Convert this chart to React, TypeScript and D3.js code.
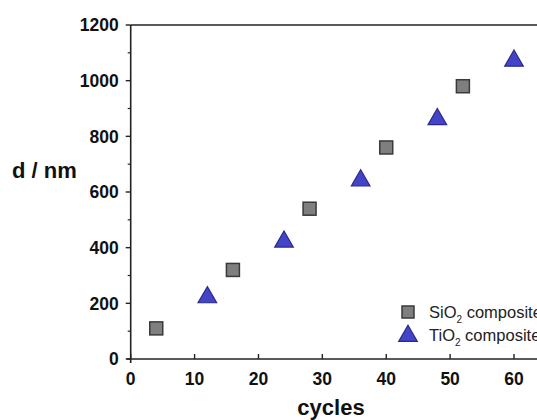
import React from "react";
import * as d3 from "d3";

const sioCycles = [4, 16, 28, 40, 52];
const sioThickness = [110, 320, 540, 760, 980];
const tioCycles = [12, 24, 36, 48, 60];
const tioThickness = [225, 425, 645, 865, 1075];
const xTicks = [0, 10, 20, 30, 40, 50, 60];
const yTicks = [0, 200, 400, 600, 800, 1000, 1200];
const yMinor = [100, 300, 500, 700, 900, 1100];

const W = 537;
const H = 420;

export default function App() {
  const x = d3.scaleLinear().domain([0, 60]).range([130.7, 514]);
  const y = d3.scaleLinear().domain([0, 1200]).range([359, 25]);
  const font = "'Liberation Sans', Arial, Helvetica, sans-serif";
  const sq = 13;
  const tri = d3.symbol().type(d3.symbolTriangle).size(150);
  const axisColor = "#222";

  return (
    <div style={{ position: "absolute", left: 0, top: 0 }}>
      <svg width={W} height={H} style={{ display: "block", background: "#fff" }}>
        {/* axes */}
        <line x1={x(0)} x2={x(0)} y1={y(1200)} y2={y(0) + 4} stroke={axisColor} strokeWidth={1.6} />
        <line x1={x(0) - 4} x2={W} y1={y(0)} y2={y(0)} stroke={axisColor} strokeWidth={1.6} />
        <line x1={x(0)} x2={W} y1={y(1200)} y2={y(1200)} stroke={axisColor} strokeWidth={1.6} />
        {yTicks.map((t) => (
          <g key={"y" + t}>
            <line x1={x(0) - 5} x2={x(0)} y1={y(t)} y2={y(t)} stroke={axisColor} strokeWidth={1.4} />
            <text x={x(0) - 12} y={y(t)} dy="0.36em" textAnchor="end" fontFamily={font} fontWeight="bold" fontSize={17.5} fill="#111">
              {t}
            </text>
          </g>
        ))}
        {yMinor.map((t) => (
          <line key={"ym" + t} x1={x(0) - 3} x2={x(0)} y1={y(t)} y2={y(t)} stroke={axisColor} strokeWidth={1.2} />
        ))}
        {xTicks.map((t) => (
          <g key={"x" + t}>
            <line x1={x(t)} x2={x(t)} y1={y(0)} y2={y(0) - 5} stroke={axisColor} strokeWidth={1.4} />
            <text x={x(t)} y={y(0) + 26} textAnchor="middle" fontFamily={font} fontWeight="bold" fontSize={17.5} fill="#111">
              {t}
            </text>
          </g>
        ))}
        <text x={12} y={178} fontFamily={font} fontWeight="bold" fontSize={22} fill="#111">
          d / nm
        </text>
        <text x={331} y={415} textAnchor="middle" fontFamily={font} fontWeight="bold" fontSize={22} fill="#111">
          cycles
        </text>

        {/* data */}
        {sioCycles.map((c, i) => (
          <rect
            key={"s" + i}
            x={x(c) - sq / 2}
            y={y(sioThickness[i]) - sq / 2}
            width={sq}
            height={sq}
            fill="#7f7f7f"
            stroke="#3a3a3a"
            strokeWidth={1.5}
          />
        ))}
        {tioCycles.map((c, i) => (
          <path
            key={"t" + i}
            d={tri() as string}
            transform={`translate(${x(c)},${y(tioThickness[i]) + 1})`}
            fill="#4444c8"
            stroke="#2a2a8c"
            strokeWidth={1.2}
          />
        ))}

        {/* legend */}
        <rect x={408 - 6} y={312 - 6} width={12} height={12} fill="#7f7f7f" stroke="#3a3a3a" strokeWidth={1.5} />
        <path d={tri() as string} transform="translate(408,336)" fill="#4444c8" stroke="#2a2a8c" strokeWidth={1.2} />
        <text x={429} y={318} fontFamily={font} fontSize={16.5} fill="#222">
          SiO<tspan fontSize={10} dy={5}>2</tspan>
          <tspan dy={-5}> composite</tspan>
        </text>
        <text x={429} y={341} fontFamily={font} fontSize={16.5} fill="#222">
          TiO<tspan fontSize={10} dy={5}>2</tspan>
          <tspan dy={-5}> composite</tspan>
        </text>
      </svg>
    </div>
  );
}
